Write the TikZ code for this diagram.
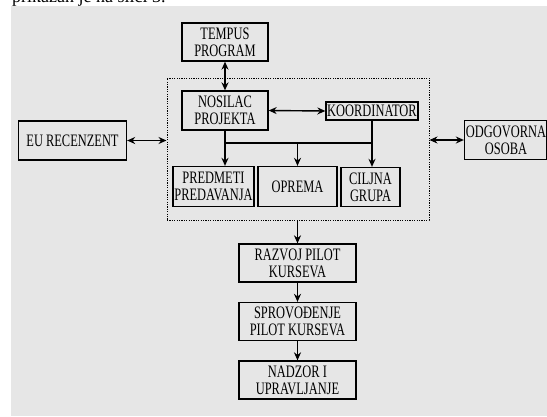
\documentclass[tikz,border=0pt]{standalone}
\usepackage{fontspec}
\setmainfont{Liberation Serif}[FakeStretch=0.71]
\newfontfamily\toptext{Liberation Serif}
\usetikzlibrary{arrows.meta}
\definecolor{bggray}{RGB}{230,230,230}
\tikzset{
  box/.style={draw=black, line width=1.3pt, inner sep=0pt, align=center,
    font=\fontsize{17.5}{17}\selectfont},
  conn/.style={line width=1.4pt, -{Stealth[length=8pt,width=7pt]}},
  biconn/.style={line width=1.4pt, {Stealth[length=8pt,width=7pt]}-{Stealth[length=8pt,width=7pt]}},
  plain/.style={line width=1.4pt},
  dotbox/.style={draw=black, line width=1pt, dash pattern=on 1.2pt off 1.2pt}
}
\begin{document}
\begin{tikzpicture}[x=1pt,y=-1pt]
\useasboundingbox (0,0) rectangle (547,416);
\fill[bggray] (11,6) rectangle (547,416);
\begin{scope}
\clip (0,0) rectangle (547,6);
\node[anchor=base west, inner sep=0pt, font=\toptext\fontsize{18}{18}\selectfont] (toptxt) at (12,2) {prikazan je na slici 3.};
\end{scope}
% dotted group
\node[dotbox, minimum width=262pt, minimum height=142pt, inner sep=0pt] (group) at (298,149) {};
% boxes
\node[box, minimum width=86pt, minimum height=38pt] (tempus) at (225,42) {TEMPUS\\PROGRAM};
\node[box, minimum width=86pt, minimum height=39pt] (nosilac) at (225,110.5) {NOSILAC\\PROJEKTA};
\node[box, minimum width=92pt, minimum height=18pt] (koord) at (372,111) {KOORDINATOR};
\node[box, minimum width=108pt, minimum height=39pt] (eu) at (72.5,140.5) {EU RECENZENT};
\node[box, minimum width=82pt, minimum height=39pt] (odg) at (505.5,140) {};
\node[font=\fontsize{17.5}{17}\selectfont, align=center, inner sep=0pt] (odgtxt) at (506,140) {ODGOVORNA\\OSOBA};
\node[box, minimum width=81pt, minimum height=40pt] (predmeti) at (213.5,186.5) {PREDMETI\\PREDAVANJA};
\node[box, minimum width=79pt, minimum height=40pt] (oprema) at (297.5,186.5) {OPREMA};
\node[box, minimum width=59pt, minimum height=39pt] (ciljna) at (370.5,187) {CILJNA\\GRUPA};
\node[box, minimum width=117pt, minimum height=38pt] (razvoj) at (297.5,263) {RAZVOJ PILOT\\KURSEVA};
\node[box, minimum width=117pt, minimum height=38pt] (sprov) at (297.5,321.5) {SPROVOĐENJE\\PILOT KURSEVA};
\node[box, minimum width=117pt, minimum height=38pt] (nadzor) at (297.5,380) {NADZOR I\\UPRAVLJANJE};
% connectors
\coordinate (busL) at (nosilac.south |- 0,143);
\coordinate (busR) at (koord.south |- 0,143);
\draw[biconn] (tempus.south) -- (nosilac.north);
\draw[biconn] (nosilac.east) -- (koord.west);
\draw[plain] (nosilac.south) -- (busL) -- (busR);
\draw[plain] (koord.south) -- (busR);
\draw[conn] (busL) -- (busL |- predmeti.north);
\draw[conn] (oprema.north |- busL) -- (oprema.north);
\draw[conn] (busR) -- (busR |- ciljna.north);
\draw[biconn] (eu.east) -- (group.west |- eu.east);
\draw[biconn] (group.east |- odg.west) -- (odg.west);
\draw[conn] (group.south -| razvoj.north) -- (razvoj.north);
\draw[conn] (razvoj.south) -- (sprov.north);
\draw[conn] (sprov.south) -- (nadzor.north);
\end{tikzpicture}
\end{document}
